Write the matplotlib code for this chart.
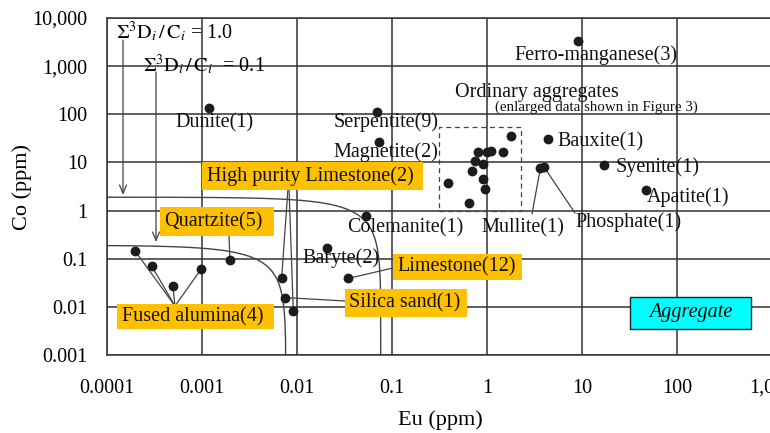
import numpy as np
import matplotlib.pyplot as plt
from matplotlib.patches import Rectangle
from matplotlib.ticker import NullLocator

plt.rcParams['font.family'] = ['Liberation Serif', 'DejaVu Serif']
plt.rcParams['mathtext.fontset'] = 'stix'

# data (Eu ppm, Co ppm)
dunite_eu, dunite_co = [0.00119], [134]
ferro_eu, ferro_co = [9.0], [3280]
serpentite_eu, serpentite_co = [0.069], [113]
magnetite_eu, magnetite_co = [0.0735], [26.8]
bauxite_eu, bauxite_co = [4.39], [30]
syenite_eu, syenite_co = [17.1], [8.8]
apatite_eu, apatite_co = [46.8], [2.65]
mullite_eu, mullite_co = [3.64], [7.5]
phosphate_eu, phosphate_co = [4.01], [7.87]
colemanite_eu, colemanite_co = [0.0528], [0.765]
baryte_eu, baryte_co = [0.0208], [0.168]
limestone_eu, limestone_co = [0.0347], [0.039]
quartzite_eu, quartzite_co = [0.00197], [0.096]
fused_eu = [0.000196, 0.000296, 0.000492, 0.000984]
fused_co = [0.148, 0.070, 0.0277, 0.0614]
hp_limestone_eu = [0.0069, 0.00914]
hp_limestone_co = [0.040, 0.0082]
silica_eu, silica_co = [0.00753], [0.0156]
ordinary_eu = [1.79, 0.81, 0.99, 1.10, 1.49, 0.75, 0.90, 0.70, 0.91, 0.95, 0.39, 0.64]
ordinary_co = [35.2, 16.6, 16.6, 17.4, 16.1, 10.8, 9.1, 6.7, 4.5, 2.8, 3.66, 1.47]
ordinary_box = (0.315, 2.3, 1.0, 55)  # eu min, eu max, co min, co max

# sum-of-fractions lines: Eu/A + Co/B = k
limit_a, limit_b = 0.0766, 1.9
limit_levels = [1.0, 0.1]

x_ticks = [1e-4, 1e-3, 1e-2, 1e-1, 1, 10, 100, 1000]
x_tick_labels = ['0.0001', '0.001', '0.01', '0.1', '1', '10', '100', '1,000']
y_ticks = [1e-3, 1e-2, 1e-1, 1, 10, 100, 1000, 10000]
y_tick_labels = ['0.001', '0.01', '0.1', '1', '10', '100', '1,000', '10,000']

W, H = 770, 433
YELLOW = '#FFC000'
LINE = '#444444'
FS = 14.5


def fp(x, y):
  # pixel position (from top-left) to figure fraction
  return x / W, 1 - y / H


def fig_box(x0, x1, y0, y1, fc, ec='none', lw=0):
  r = Rectangle(fp(x0, y1), (x1 - x0) / W, (y1 - y0) / H, transform=fig.transFigure,
                fc=fc, ec=ec, lw=lw, zorder=2)
  fig.patches.append(r)


fig = plt.figure(figsize=(W / 100, H / 100), dpi=100)
ax = fig.add_axes([107 / W, 1 - 355 / H, (772 - 107) / W, (355 - 18) / H])
ax.set_xscale('log')
ax.set_yscale('log')
ax.set_xlim(1e-4, 1e3)
ax.set_ylim(1e-3, 1e4)
ax.set_xticks(x_ticks)
ax.set_xticklabels(x_tick_labels)
ax.set_yticks(y_ticks)
ax.set_yticklabels(y_tick_labels)
ax.xaxis.set_minor_locator(NullLocator())
ax.yaxis.set_minor_locator(NullLocator())
ax.tick_params(length=0, labelsize=FS)
ax.tick_params(axis='x', pad=17)
ax.tick_params(axis='y', pad=14)
ax.grid(True, color='#333333', lw=1.1)
ax.set_axisbelow(True)
for s in ax.spines.values():
  s.set_color('#333333')
  s.set_linewidth(1.1)

fig.text(*fp(440, 420), 'Eu (ppm)', fontsize=16, ha='center', va='center')
fig.text(*fp(22, 187), 'Co (ppm)', fontsize=16, ha='center', va='center', rotation=90)

# limit curves
t = np.logspace(-7, -1e-6, 1500)
for k in limit_levels:
  eu = limit_a * k * t
  co = limit_b * k * (1 - t)
  ax.plot(eu, co, color=LINE, lw=1.0, zorder=2)

# points
groups = [
  (dunite_eu, dunite_co), (ferro_eu, ferro_co), (serpentite_eu, serpentite_co),
  (magnetite_eu, magnetite_co), (bauxite_eu, bauxite_co), (syenite_eu, syenite_co),
  (apatite_eu, apatite_co), (mullite_eu, mullite_co), (phosphate_eu, phosphate_co),
  (colemanite_eu, colemanite_co), (baryte_eu, baryte_co), (limestone_eu, limestone_co),
  (quartzite_eu, quartzite_co), (fused_eu, fused_co), (hp_limestone_eu, hp_limestone_co),
  (silica_eu, silica_co), (ordinary_eu, ordinary_co),
]
for eu, co in groups:
  ax.scatter(eu, co, s=50, color='#1c1c1c', zorder=4, linewidths=0)

# dashed box around ordinary aggregates
x0, x1, y0, y1 = ordinary_box
ax.plot([x0, x1, x1, x0, x0], [y0, y0, y1, y1, y0], color=LINE, lw=0.9, ls=(0, (4, 3)), zorder=3)

# plain labels
plain = [
  ('Dunite(1)', 214, 123), ('Serpentite(9)', 386, 122), ('Magnetite(2)', 386, 152),
  ('Ferro-manganese(3)', 596, 55), ('Ordinary aggregates', 537, 92),
  ('Bauxite(1)', 600, 142), ('Syenite(1)', 658, 167), ('Apatite(1)', 688, 197),
  ('Phosphate(1)', 628, 222), ('Mullite(1)', 523, 228), ('Colemanite(1)', 405, 228),
  ('Baryte(2)', 341, 258),
]
for txt, x, y in plain:
  fig.text(*fp(x, y), txt, fontsize=FS, ha='center', va='center', color='#111111')
fig.text(*fp(596, 107), '(enlarged data shown in Figure 3)', fontsize=10.8,
         ha='center', va='center', color='#111111')

# yellow boxed labels: text, box x0, x1, y0, y1, text left
boxed = [
  ('High purity Limestone(2)', 202, 423, 162, 190, 207),
  ('Quartzite(5)', 160, 274, 207, 236, 164),
  ('Fused alumina(4)', 117, 274, 304, 329, 122),
  ('Limestone(12)', 393, 522, 254, 280, 397),
  ('Silica sand(1)', 345, 467, 289, 317, 349),
]
for txt, bx0, bx1, by0, by1, tx in boxed:
  fig_box(bx0, bx1, by0, by1, YELLOW)
  fig.text(*fp(tx, (by0 + by1) / 2), txt, fontsize=FS, ha='left', va='center', color='#111111')

fig_box(630, 751, 297, 329, '#00FFFF', ec='#222222', lw=1.0)
fig.text(*fp(690.5, 313), 'Aggregate', fontsize=FS, style='italic', ha='center', va='center')


def leader(eu, co, x, y):
  ax.annotate('', xy=(eu, co), xycoords='data', xytext=fp(x, y), textcoords='figure fraction',
              arrowprops=dict(arrowstyle='-', color=LINE, lw=0.9, shrinkA=0, shrinkB=0), zorder=3)


leader(quartzite_eu[0], quartzite_co[0], 229, 236)
for eu, co in zip(fused_eu, fused_co):
  leader(eu, co, 175, 306)
leader(hp_limestone_eu[0], hp_limestone_co[0], 288, 188)
leader(hp_limestone_eu[1], hp_limestone_co[1], 289, 188)
leader(silica_eu[0], silica_co[0], 345, 301)
leader(limestone_eu[0], limestone_co[0], 393, 268)
leader(mullite_eu[0], mullite_co[0], 532, 214)
leader(phosphate_eu[0], phosphate_co[0], 575, 213)

# sum-of-fractions annotations
sigma = r'$\Sigma^3\mathrm{D}_i\,/\,\mathrm{C}_i$'
fig.text(*fp(116, 32), sigma + ' = 1.0', fontsize=FS, ha='left', va='center')
fig.text(*fp(143, 65), sigma + '  = 0.1', fontsize=FS, ha='left', va='center')
arrow_kw = dict(arrowstyle='->,head_length=0.6,head_width=0.25', color=LINE, lw=0.9,
                shrinkA=0, shrinkB=0)
ax.annotate('', xy=fp(123, 195), xycoords='figure fraction', xytext=fp(123, 40),
            textcoords='figure fraction', arrowprops=arrow_kw)
ax.annotate('', xy=fp(156, 242), xycoords='figure fraction', xytext=fp(156, 72),
            textcoords='figure fraction', arrowprops=arrow_kw)

fig.savefig('out.png', dpi=100)
